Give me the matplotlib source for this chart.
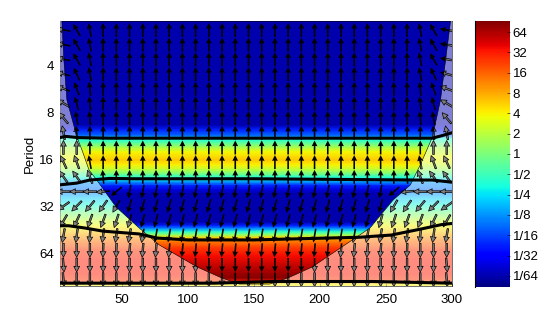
import numpy as np
import matplotlib
matplotlib.use('Agg')
import matplotlib.pyplot as plt
from matplotlib.patches import Polygon

plt.rcParams['font.family'] = ['Liberation Sans', 'DejaVu Sans']
plt.rcParams['font.size'] = 9.5

# --- power by period inside the cone (log2 values) ---
x_range = [3, 300]
period = [2.06, 9.55, 10.27, 11.2, 11.7, 12.5, 13.2, 14.2, 16, 17.2, 18.5, 19.7, 20.8,
          22.2, 23.4, 24.9, 26.4, 39.9, 42.2, 44.2, 46.3, 48.4, 50.6, 52.9, 58.5, 65.9,
          81, 91, 97, 99.9, 102.6]
power = [-6, -6, -4.5, -3.5, -1.5, -0.5, 0.6, 1.9, 2.6, 2.0, 1.0, -0.2, -1.5,
         -3, -4.5, -5.5, -6, -6, -4.5, -3, -1.2, 0.5, 2.5, 3.6, 4.6, 5.2,
         6.0, 6.4, 5, 2, 2]

# --- power by period outside the cone ---
period_edge = [2.06, 9.55, 10.27, 11.2, 11.7, 12.5, 13.4, 14.8, 16, 17.5, 19.1, 20.8, 22.5,
               24.9, 27.6, 31.2, 34.5, 37.6, 41.6, 46.3, 52, 60.2, 69.8, 87.2, 97, 99.9, 102.6]
power_edge = [-6, -6, -5, -3.5, -1.5, -0.5, 0.8, 1.6, 1.9, 1.2, 0, -1.5, -3,
              -3.5, -2.5, -1.5, -0.3, 0.7, 1.8, 2.6, 3.6, 4.7, 5, 5, 4.5, 2, 2]

# --- cone of influence ---
coi_x = [4.8, 6.3, 8.6, 16.2, 20, 25.3, 32.9, 45.8, 63.3, 78.5, 107.4, 125.6, 139,
         162, 176, 194, 238, 255.6, 268.5, 276, 285.2, 291.3, 298.9]
coi_p = [2.06, 3.66, 6.6, 11.4, 13.8, 18.5, 22.5, 32, 43.6, 56, 77.7, 91, 99.7,
         99.7, 91, 77.7, 43.6, 28.8, 23.1, 17.2, 11.4, 6.6, 2.06]

# --- significance contours ---
c1_x = [3, 8, 17, 40, 150, 285, 292, 300]
c1_p = [11.5, 11.3, 11.5, 11.6, 11.6, 11.6, 11.2, 10.7]
c2_x = [3, 16, 26, 41, 60, 150, 273, 285, 300]
c2_p = [23.1, 22.5, 21.5, 21.0, 21.1, 21.1, 21.5, 21.5, 22.2]
c3_x = [3, 10, 22, 36, 63, 77, 100, 150, 230, 254, 277, 292, 300]
c3_p = [42.2, 42.2, 43.6, 45.7, 47.6, 50.6, 52, 52, 50, 48.4, 44.2, 41.5, 40.8]
c4_x = [3, 120, 165, 240, 300]
c4_p = [98.4, 98.4, 96, 96, 98.4]

# --- phase arrows ---
arrow_x = list(range(6, 300, 10))
arrow_p = [2.35, 2.92, 3.62, 4.5, 5.59, 6.94, 8.62, 10.7, 13.3, 16.5, 20.5, 25.5,
           31.6, 39.3, 48.8, 60.6, 75.3, 93.5]
angle_inner = [90, 90, 90, 90, 90, 90, 90, 90, 90, 90, 90, 260, 255, 255, 260, 265, 270, 270]
angle_col0 = [170, 170, 170, 165, 160, 150, 130, 100, 90, 115, 125, 180, 215, 240, 260, 270, 275, 275]
angle_col1 = [120, 120, 120, 115, 110, 105, 100, 95, 90, 110, 125, 180, 225, 245, 262, 270, 270, 270]
angle_col2 = [100, 100, 100, 100, 95, 95, 95, 90, 90, 100, 110, 180, 230, 250, 265, 270, 270, 270]
angle_col3 = [90, 90, 90, 90, 90, 90, 90, 90, 90, 90, 95, 185, 235, 250, 262, 268, 270, 270]
angle_col4 = [90, 90, 90, 90, 90, 90, 90, 90, 90, 90, 90, 220, 240, 252, 262, 268, 270, 270]

ticks_x = [50, 100, 150, 200, 250, 300]
ticks_p = [4, 8, 16, 32, 64]
cbar_levels = [6, 5, 4, 3, 2, 1, 0, -1, -2, -3, -4, -5, -6]
cbar_labels = ['64', '32', '16', '8', '4', '2', '1', '1/2', '1/4', '1/8', '1/16', '1/32', '1/64']

W, H = 554, 310
fig = plt.figure(figsize=(W / 100, H / 100), dpi=100)
ax = fig.add_axes([59.5 / W, 1 - 286 / H, (452 - 59.5) / W, (286 - 21) / H])
cax = fig.add_axes([475 / W, 1 - 287 / H, 35 / W, 266 / H])

# --- power map, outer profile first, inner one clipped to the cone ---
mesh_opts = dict(cmap='jet', vmin=-6.55, vmax=6.55, shading='gouraud', zorder=1)
edge_rows = np.array(power_edge)
ax.pcolormesh(x_range, period_edge, np.column_stack([edge_rows, edge_rows]), **mesh_opts)
rows = np.array(power)
mesh = ax.pcolormesh(x_range, period, np.column_stack([rows, rows]), **mesh_opts)
ax.set_yscale('log', base=2)
ax.set_xlim(x_range)
ax.set_ylim(102.6, 2.06)
cone = Polygon(np.column_stack([coi_x, coi_p]), closed=True, transform=ax.transData)
mesh.set_clip_path(cone)

# --- arrows ---
angles = np.tile(np.array(angle_inner, dtype=float), (len(arrow_x), 1)).T
for i, col in enumerate([angle_col0, angle_col1, angle_col2, angle_col3, angle_col4]):
    angles[:, i] = col
    angles[:, -1 - i] = col
X, Y = np.meshgrid(arrow_x, arrow_p)
L = 14
U = L * np.cos(np.radians(angles))
V = L * np.sin(np.radians(angles))
quiver_opts = dict(angles='uv', units='dots', scale_units='dots', scale=1, pivot='mid',
                   width=1.6, headwidth=3.6, headlength=3.6, headaxislength=3.4)
ax.quiver(X, Y, U, V, color='black', zorder=2, **quiver_opts)

# --- fade outside the cone ---
fade_x = [x_range[0]] + coi_x + [x_range[1], x_range[1], x_range[0]]
fade_p = [2.06] + coi_p + [2.06, 102.6, 102.6]
fade = ax.fill(fade_x, fade_p, color='white', alpha=0.5, lw=0, zorder=3)[0]
q2 = ax.quiver(X, Y, U, V, facecolor='none', edgecolor='black', linewidth=0.5, zorder=4, **quiver_opts)
q2.set_clip_path(fade)
ax.plot(coi_x, coi_p, color='black', lw=0.4, zorder=5)

# --- contours ---
for cx, cp in [(c1_x, c1_p), (c2_x, c2_p), (c3_x, c3_p), (c4_x, c4_p)]:
    ax.plot(cx, cp, color='black', lw=2.2, zorder=6)

ax.set_xticks(ticks_x)
ax.set_xticklabels([str(t) for t in ticks_x])
ax.set_yticks(ticks_p)
ax.set_yticklabels([str(t) for t in ticks_p])
ax.minorticks_off()
ax.tick_params(direction='in', length=2.5, width=0.4, pad=4, top=False, right=False)
ax.tick_params(axis='x', pad=6)
ax.set_ylabel('Period', labelpad=2)
for s in ax.spines.values():
    s.set_linewidth(0.4)

# --- colour bar ---
cb = fig.colorbar(mesh, cax=cax)
cb.set_ticks(cbar_levels)
cb.set_ticklabels(cbar_labels)
cb.ax.tick_params(direction='in', length=2.5, width=0.4, pad=2)
cb.outline.set_visible(False)
cb.ax.spines['left'].set_visible(True)
cb.ax.spines['left'].set_linewidth(0.8)

fig.savefig('out.png', dpi=100)
